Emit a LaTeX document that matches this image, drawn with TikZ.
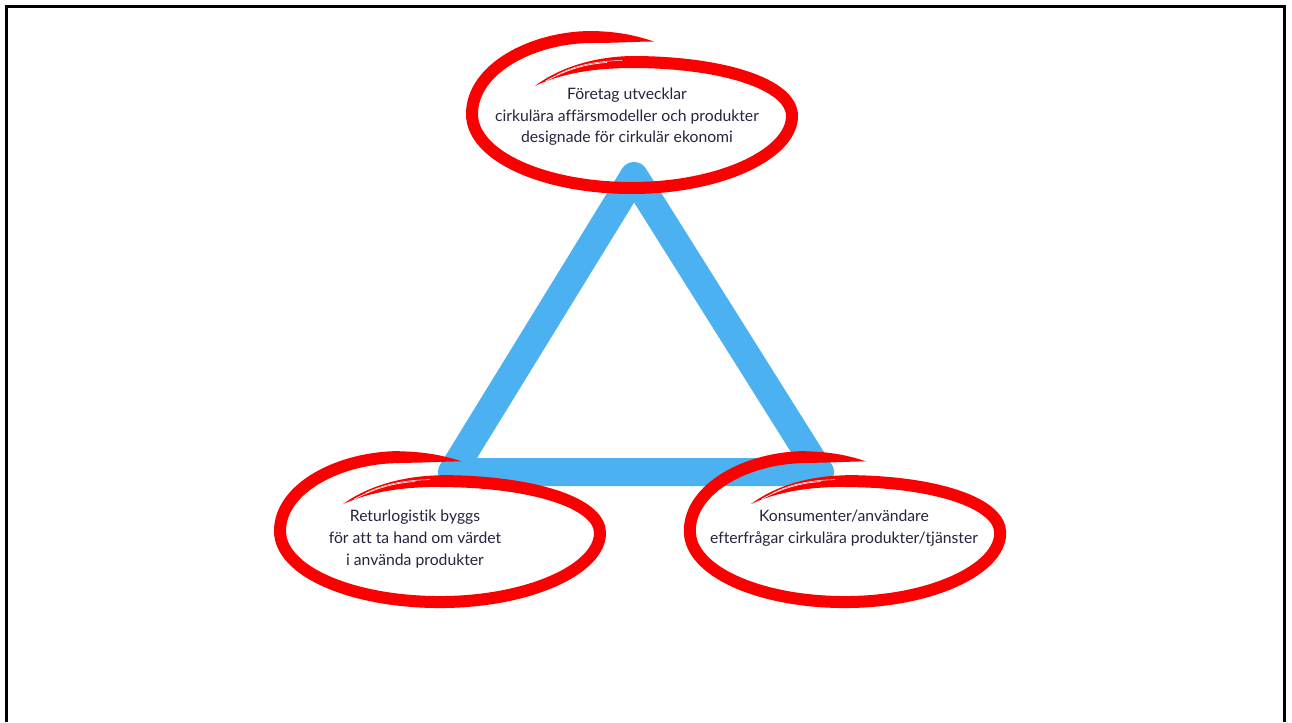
\documentclass[tikz,border=0pt]{standalone}
\usepackage{fontspec}
\setmainfont{Lato}[Ligatures=NoCommon]
\definecolor{triblue}{HTML}{4BB1F1}
\definecolor{loopred}{HTML}{FA0000}
\definecolor{txtnavy}{HTML}{25253F}
\tikzset{
  label text/.style={align=center, text=txtnavy, font=\fontsize{11.8}{16.2}\selectfont, inner sep=0pt},
  tri line/.style={draw=triblue, line width=21pt, line join=round, line cap=round},
  loop line/.style={draw=loopred, line width=9pt, line cap=butt},
}
\newcommand{\handloop}{%
  \path[loop line] (-40,-77) .. controls (-100,-77) and (-160,-45) .. (-160,0)
     .. controls (-160,42) and (-88,74) .. (0,74)
     .. controls (88,74) and (160,40) .. (160,2)
     .. controls (160,-30) and (90,-52) .. (0,-52);
  \fill[loopred] (-40.5,-83) .. controls (-10,-82.5) and (8,-77) .. (22,-72.5)
     .. controls (5,-72.5) and (-15,-71) .. (-40.5,-71) -- cycle;
  \fill[loopred] (0.5,-58) .. controls (-40,-57.5) and (-75,-45) .. (-97,-28)
     .. controls (-72,-40) and (-40,-46) .. (0.5,-46) -- cycle;
  \draw[white, line width=0.5pt] (-25,-51.5) .. controls (-50,-50) and (-70,-42) .. (-86,-33);
  \draw[white, line width=0.4pt] (-10,-53.5) .. controls (-40,-53) and (-60,-47) .. (-75,-39);
}
\begin{document}
\begin{tikzpicture}[x=0.75pt, y=-0.75pt]
\useasboundingbox (0,0) rectangle (1292,722);
\fill[white] (0,0) rectangle (1292,722);
% frame
\draw[black, line width=2.25pt] (6.5,722) -- (6.5,6.5) -- (1284.5,6.5) -- (1284.5,722);
% triangle
\coordinate (ttop) at (634,176);
\coordinate (tleft) at (452,472);
\coordinate (tright) at (820,472);
\draw[tri line] (ttop) -- (tleft) -- (tright) -- cycle;
% loops
\begin{scope}[shift={(632,114)}]
  \handloop
\end{scope}
\begin{scope}[shift={(440,531)}, yscale=0.96]
  \handloop
\end{scope}
\begin{scope}[shift={(845,531)}, xscale=0.97, yscale=0.96]
  \handloop
\end{scope}
% texts
\node[label text] (foretag) at (627,117) {Företag utvecklar\\cirkulära affärsmodeller och produkter\\designade för cirkulär ekonomi};
\node[label text] (retur) at (415,539) {Returlogistik byggs\\för att ta hand om värdet\\i använda produkter};
\node[label text] (konsument) at (844,528) {Konsumenter/användare\\efterfrågar cirkulära produkter/tjänster};
\end{tikzpicture}
\end{document}
